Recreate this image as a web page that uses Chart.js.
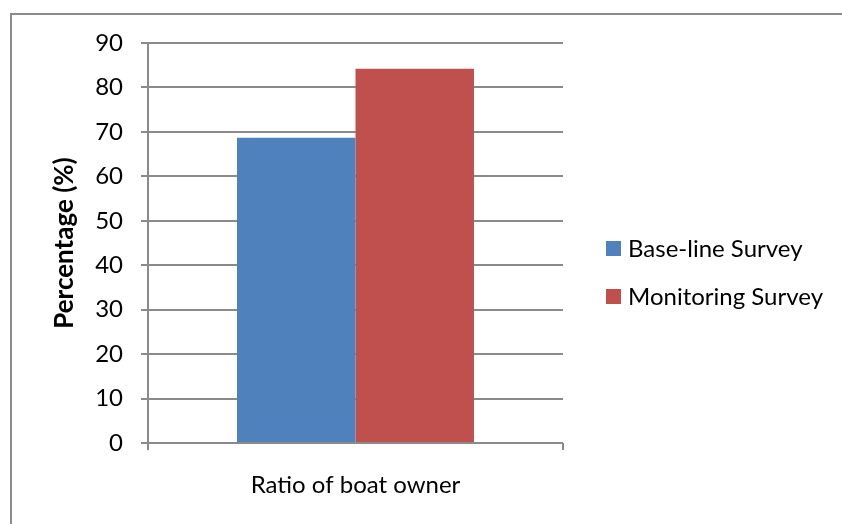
<!DOCTYPE html>
<html>
<head>
<meta charset="utf-8">
<script src="https://cdn.jsdelivr.net/npm/chart.js@4.4.0/dist/chart.umd.min.js"></script>
<style>
  body { margin: 0; background: #fff; }
  #wrap { position: relative; width: 842px; height: 524px; overflow: hidden; }
  #frame {
    position: absolute; left: 10px; top: 13px; width: 900px; height: 600px;
    border-left: 2px solid #8a8a8a; border-top: 2px solid #8a8a8a;
  }
  #myChart { position: absolute; left: 0; top: 0; }
</style>
</head>
<body>
<div id="wrap">
  <div id="frame"></div>
  <canvas id="myChart" width="842" height="524"></canvas>
</div>
<script>
const categories = ["Ratio of boat owner"];
const series_names = ["Base-line Survey", "Monitoring Survey"];
const baseline = [68.7];
const monitoring = [84.2];
const y_ticks = [0, 10, 20, 30, 40, 50, 60, 70, 80, 90];

const fontFamily = "Lato, 'Open Sans', sans-serif";
const gridColor = "#8a8a8a";

// legend on the right, squares + labels
const sideLegend = {
  id: "sideLegend",
  afterDraw(chart) {
    const ctx = chart.ctx;
    ctx.save();
    ctx.font = "24px " + fontFamily;
    ctx.textBaseline = "middle";
    chart.data.datasets.forEach(function (ds, i) {
      const y = 248 + i * 48;
      ctx.fillStyle = ds.backgroundColor;
      ctx.fillRect(606, y - 7, 15, 15);
      ctx.fillStyle = "#000";
      ctx.fillText(ds.label, 628, y + 1);
    });
    ctx.restore();
  },
};

const ctx = document.getElementById("myChart").getContext("2d");
const myChart = new Chart(ctx, {
  type: "bar",
  data: {
    labels: categories,
    datasets: [
      {
        label: series_names[0],
        data: baseline,
        backgroundColor: "#4F81BD",
        categoryPercentage: 0.571,
        barPercentage: 1.0,
      },
      {
        label: series_names[1],
        data: monitoring,
        backgroundColor: "#C0504D",
        categoryPercentage: 0.571,
        barPercentage: 1.0,
      },
    ],
  },
  options: {
    responsive: false,
    animation: false,
    layout: { padding: { left: 0, top: 43, right: 279, bottom: 0 } },
    plugins: {
      legend: { display: false },
      tooltip: { enabled: false },
    },
    scales: {
      x: {
        afterFit: function (s) { s.height = 81; },
        grid: {
          offset: true,
          drawOnChartArea: false,
          color: gridColor,
          lineWidth: 2,
          tickLength: 7,
        },
        border: { display: false },
        ticks: {
          color: "#000",
          padding: 21,
          font: { family: fontFamily, size: 24 },
        },
      },
      y: {
        min: 0,
        max: 90,
        afterFit: function (s) { s.width = 148; },
        afterBuildTicks: function (s) {
          s.ticks = y_ticks.map(function (v) { return { value: v }; });
        },
        grid: { color: gridColor, lineWidth: 2, tickLength: 7 },
        border: { color: gridColor, width: 2 },
        ticks: {
          color: "#000",
          padding: 18,
          font: { family: fontFamily, size: 24 },
        },
        title: {
          display: true,
          text: "Percentage (%)",
          color: "#000",
          padding: { top: 49, bottom: 0 },
          font: { family: fontFamily, size: 26, weight: "bold" },
        },
      },
    },
  },
  plugins: [sideLegend],
});
</script>
</body>
</html>
